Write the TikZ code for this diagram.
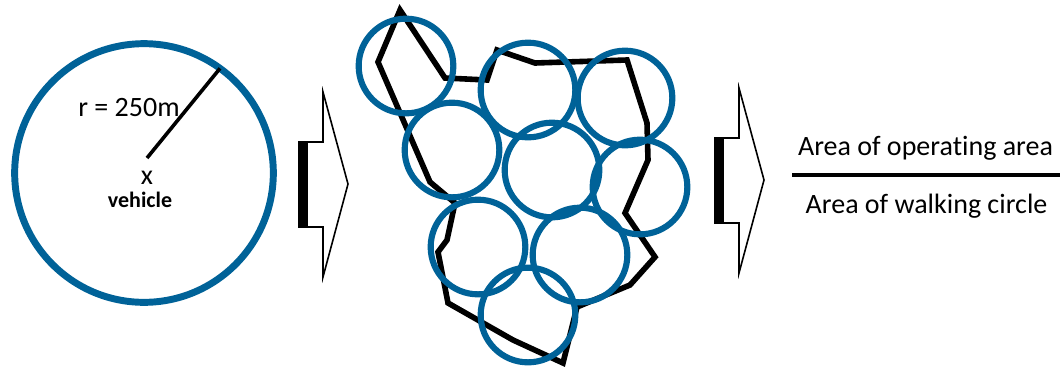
\documentclass[tikz,border=0pt]{standalone}
\usepackage{fontspec}
\setmainfont{Carlito}[Ligatures=NoCommon]
\usepackage{xcolor}
\usetikzlibrary{positioning}
\definecolor{walkblue}{RGB}{0,98,152}

\begin{document}
\begin{tikzpicture}[x=0.75pt, y=-0.75pt,
  walk/.style={circle, draw=walkblue, line width=4.6pt, minimum size=71pt, inner sep=0pt, outer sep=0pt},
  lbl/.style={font=\fontsize{21}{25}\selectfont, inner sep=0pt, anchor=base},
  blockarr/.style={draw=black, line width=1.2pt, fill=white, line join=miter}]
  % pixel grid of the reference, y pointing down
  \useasboundingbox (0,0) rectangle (1063,369);

  % Walking circle round the vehicle
  \node[walk, line width=5.2pt, minimum size=194pt] (vehzone) at (144,173) {};
  \coordinate (rstart) at (147,158);
  \draw[line width=2.7pt] (rstart) -- (vehzone.54.8);
  \node[lbl] (radius) at (129,116) {r = 250m};
  \node[lbl] (vx) at (147,184) {x};
  \node[inner sep=0pt, anchor=base, font=\fontsize{16.5}{20}\bfseries\selectfont] (veh) at (140,207) {vehicle};

  % Block arrows
  \foreach \ax/\ay in {299/184, 715/180}{
    \draw[blockarr] (\ax,\ay-42) -- ++(24,0) -- ++(0,-50) -- (\ax+49,\ay)
      -- (\ax+24,\ay+93) -- ++(0,-50) -- (\ax,\ay+43) -- cycle;
    \fill (\ax,\ay-42) rectangle (\ax+9,\ay+43);
  }

  % Operating area
  \draw[line width=4.2pt] (400,10) -- (445,78) -- (487,80) -- (497,50) -- (535,63)
    -- (627,60) -- (647,123) -- (648,160) -- (625,213) -- (655,257) -- (630,285)
    -- (577,307) -- (563,363) -- (513,340) -- (448,303) -- (438,252) -- (447,240)
    -- (455,203) -- (430,182) -- (378,62) -- cycle;

  % Walking circles covering it
  \foreach \n/\cx/\cy in {1/406/66, 2/528/90, 3/625/98, 4/452/150, 5/552/170,
                          6/640/187, 7/478/247, 8/580/255, 9/528/315}{
    \node[walk] (wc\n) at (\cx,\cy) {};
  }

  % Ratio
  \node[lbl] (num) at (925.5,155) {Area of operating area};
  \node[lbl] (den) at (926.5,213) {Area of walking circle};
  \coordinate (fracl) at (792,175);
  \coordinate (fracr) at (1060,175);
  \draw[line width=3pt] (fracl) -- (fracr);
\end{tikzpicture}
\end{document}
